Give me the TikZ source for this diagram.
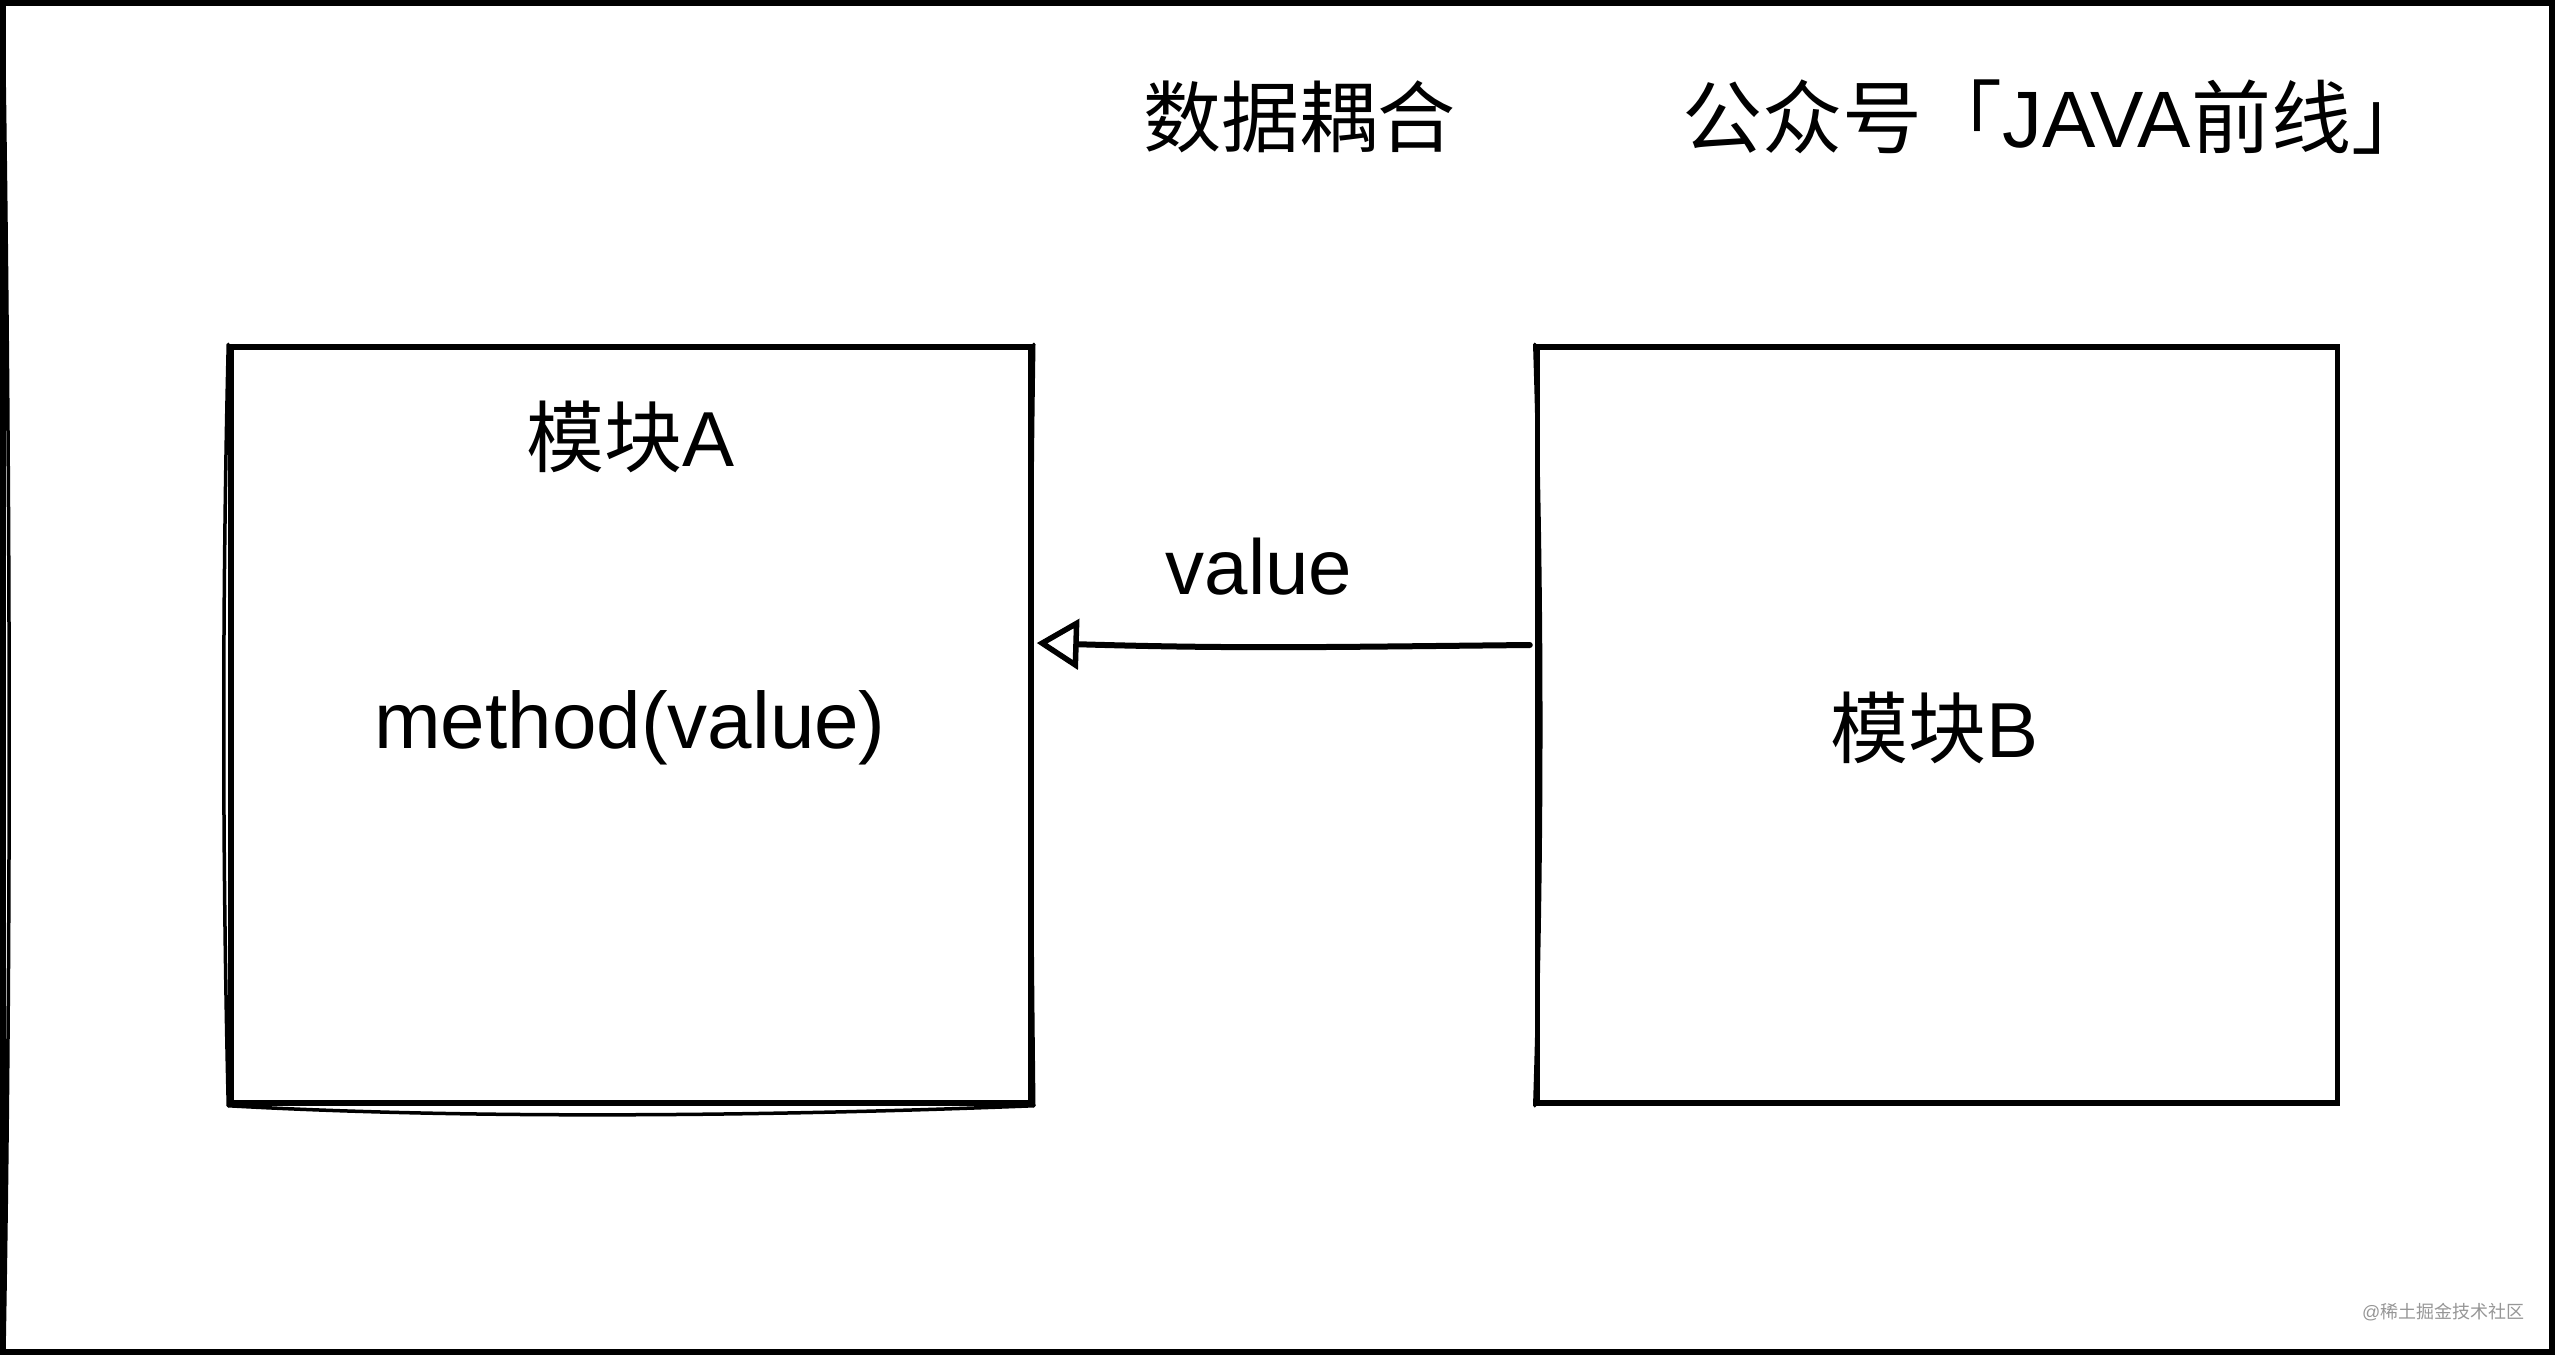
\documentclass[tikz,border=0pt]{standalone}
\usepackage{fontspec}
\setmainfont{Liberation Sans}
\newfontfamily\cjk{Noto Sans CJK SC}
\usetikzlibrary{arrows.meta,calc}
\definecolor{wmgray}{RGB}{150,150,150}
\tikzset{
  modbox/.style={draw=black,line width=5.5pt,minimum width=800pt,minimum height=756pt,inner sep=0pt},
  bigtext/.style={font=\fontsize{78}{90}\selectfont,inner sep=0pt,anchor=center},
  sketch/.style={draw=black,line width=3.5pt,line cap=round},
  flow/.style={draw=black,line width=6pt,line cap=round,-{Triangle[open,length=42pt,width=50pt,line width=5.5pt]}}
}
\begin{document}
\begin{tikzpicture}[x=1pt,y=-1pt]
\useasboundingbox (0,0) rectangle (2555,1355);
% outer frame
\draw[line width=6pt] (3,3) rectangle (2552,1352);
\draw[sketch] (3,4) .. controls (10,450) and (12,900) .. (4,1350);
% boxes
\node[modbox] (A) at (631,725) {};
\node[modbox] (B) at (1937.5,725) {};
% sketchy extra strokes
\draw[sketch] (A.south west) .. controls ($(A.south west)+(250,14)$) and ($(A.south east)+(-250,10)$) .. (A.south east);
\draw[sketch] (A.north west) .. controls ($(A.north west)+(-6,250)$) and ($(A.south west)+(-6,-250)$) .. (A.south west);
\draw[sketch] (B.north west) .. controls ($(B.north west)+(8,250)$) and ($(B.south west)+(8,-250)$) .. (B.south west);
\draw[sketch] (A.north east) .. controls ($(A.north east)+(-4,250)$) and ($(A.south east)+(-3,-250)$) .. (A.south east);
% titles
\node[bigtext] (title) at (1299,117) {\cjk 数据耦合};
\node[bigtext,font=\fontsize{80}{92}\selectfont] (pub) at (2057,117) {{\cjk 公众号「}JAVA{\cjk 前线」}};
% box labels
\node[bigtext] (Alabel) at (631,437) {{\cjk 模块}A};
\node[bigtext,font=\fontsize{80}{92}\selectfont] (Amethod) at (630,728) {method(value)};
\node[bigtext] (Blabel) at (1934,728) {{\cjk 模块}B};
\node[bigtext] (val) at (1259,567) {value};
% connector
\coordinate (tail) at ($(B.west)+(-5,-80)$);
\coordinate (tip) at ($(A.east)+(3,-82)$);
\draw[flow] (tail) .. controls ($(tail)+(-200,2)$) and ($(tip)+(200,6)$) .. (tip);
% watermark
\node[font=\fontsize{18}{20}\selectfont,text=wmgray,anchor=west,inner sep=0pt] (wm) at (2362,1312) {@{\cjk 稀土掘金技术社区}};
\end{tikzpicture}
\end{document}
